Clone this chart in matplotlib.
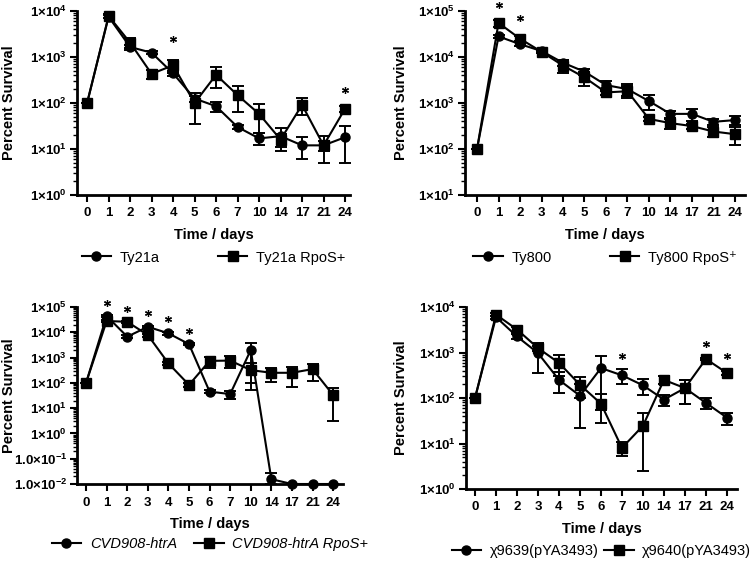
"""
Percent survival over time for four vaccine strain pairs (2x2 log-scale panels)
"""

import matplotlib

matplotlib.use("Agg")

import matplotlib.pyplot as plt
import numpy as np
from matplotlib.lines import Line2D
from matplotlib.ticker import LogLocator, NullFormatter

plt.rcParams["font.family"] = ["Liberation Sans", "DejaVu Sans"]
plt.rcParams["mathtext.fontset"] = "custom"
plt.rcParams["mathtext.bf"] = "Liberation Sans:bold"
plt.rcParams["mathtext.rm"] = "Liberation Sans:bold"
plt.rcParams["mathtext.default"] = "bf"

# shared categorical time axis
days = ["0", "1", "2", "3", "4", "5", "6", "7", "10", "14", "17", "21", "24"]

# panel A: Ty21a
ty21a = [100, 7500, 1650, 1240, 440, 125, 85, 30, 17, 19, 12, 12, 18]
ty21a_sem = [0, 500, 200, 100, 60, 20, 20, 3, 5, 10, 6, 3, 13]
ty21a_rpos = [100, 7800, 2050, 430, 660, 100, 410, 148, 58, 16, 91, 12, 75]
ty21a_rpos_sem = [0, 600, 500, 90, 220, 65, 200, 85, 36, 5, 35, 7, 10]
ty21a_star_x = [4, 12]
ty21a_star_y = [2450, 190]

# panel B: Ty800
ty800 = [100, 28000, 19000, 13500, 7500, 4800, 2450, 2000, 1100, 580, 580, 390, 425]
ty800_sem = [0, 2000, 2000, 1000, 1000, 800, 600, 600, 380, 100, 170, 60, 90]
ty800_rpos = [100, 55000, 25000, 13000, 6500, 3600, 1700, 1800, 450, 365, 315, 240, 210]
ty800_rpos_sem = [0, 9000, 3000, 800, 2000, 1200, 200, 500, 40, 90, 40, 55, 85]
ty800_star_x = [1, 2]
ty800_star_y = [137000, 72000]

# panel C: CVD908-htrA
cvd = [100, 44000, 6700, 16500, 9100, 3400, 45, 36, 2000, 0.0155, 0.01, 0.01, 0.01]
cvd_sem = [0, 3000, 800, 2000, 1000, 300, 5, 12, 1900, 0.011, 0, 0, 0]
cvd_rpos = [100, 28000, 26000, 7800, 590, 83, 740, 760, 320, 250, 250, 350, 33]
cvd_rpos_sem = [0, 3000, 3000, 1000, 60, 15, 360, 360, 270, 140, 180, 230, 30]
cvd_star_x = [1, 2, 3, 4, 5]
cvd_star_y = [150000, 81000, 56000, 33000, 11500]

# panel D: chi9639 / chi9640
chi39 = [100, 6000, 2250, 970, 250, 112, 455, 315, 190, 92, 165, 78, 37]
chi39_sem = [0, 500, 300, 610, 120, 90, 400, 110, 75, 25, 90, 22, 11]
chi40 = [100, 6800, 3200, 1250, 590, 195, 75, 8, 24.5, 250, 165, 720, 355]
chi40_sem = [0, 600, 400, 150, 280, 95, 47, 2.7, 22, 50, 90, 50, 30]
chi_star_x = [7, 11, 12]
chi_star_y = [850, 1550, 850]


def draw_panel(ax, circ, circ_sem, sq, sq_sem, labels, ylim, yticklabels,
               star_x, star_y, xlim, ylabel_x, legend_spacing, legend_style="normal"):
    x = np.arange(len(days))
    handles = []
    for y, sem, mk, ms, lab in [
        (circ, circ_sem, "o", 6.5, labels[0]),
        (sq, sq_sem, "s", 7.5, labels[1]),
    ]:
        y = np.array(y, dtype=float)
        sem = np.array(sem, dtype=float)
        lo = np.minimum(sem, y - ylim[0])
        ax.errorbar(x, y, yerr=[lo, sem], color="black", marker=mk, ms=ms,
                    lw=1.5, elinewidth=1.4, capsize=4, capthick=1.4,
                    clip_on=False, zorder=3)
        handles.append(Line2D([], [], color="black", marker=mk, ms=ms, lw=1.5, label=lab))
    ax.plot(star_x, star_y, ls="none", marker=(6, 2, 0), ms=5, mew=0.9,
            color="black", clip_on=False)

    ax.set_yscale("log")
    ax.set_ylim(*ylim)
    ax.set_xlim(*xlim)
    majors = 10.0 ** np.arange(np.log10(ylim[0]), np.log10(ylim[1]) + 0.5)
    ax.set_yticks(majors)
    ax.set_yticklabels(yticklabels)
    ax.yaxis.set_minor_locator(LogLocator(base=10, subs=np.arange(2, 10), numticks=20))
    ax.yaxis.set_minor_formatter(NullFormatter())
    ax.set_xticks(x)
    ax.set_xticklabels(days)

    for s in ["top", "right"]:
        ax.spines[s].set_visible(False)
    for s in ["left", "bottom"]:
        ax.spines[s].set_linewidth(2)
    ax.tick_params(which="major", length=5, width=1.5, labelsize=9.5, pad=2)
    ax.tick_params(axis="x", pad=4)
    ax.tick_params(which="minor", length=3, width=1)
    for t in ax.get_xticklabels() + ax.get_yticklabels():
        t.set_fontweight("bold")

    ax.set_ylabel("Percent Survival", fontsize=10.5, fontweight="bold")
    ax.yaxis.set_label_coords(ylabel_x, 0.5)
    ax.set_xlabel("Time / days", fontsize=10.5, fontweight="bold", labelpad=6)
    leg = ax.legend(handles=handles, loc="center", bbox_to_anchor=(0.5, -0.34), ncol=2,
                    frameon=False, fontsize=10.5, handlelength=2,
                    handletextpad=0.6, columnspacing=legend_spacing,
                    borderaxespad=0)
    for t in leg.get_texts():
        t.set_fontstyle(legend_style)


fig = plt.figure(figsize=(7.5, 5.68), dpi=100)
W, H = 750.0, 568.0


def add_axes(left, right, top, bottom):
    return fig.add_axes([left / W, 1 - bottom / H, (right - left) / W, (bottom - top) / H])


ax1 = add_axes(77, 350, 11, 195)
ax2 = add_axes(465, 745, 11, 195)
ax3 = add_axes(77, 343, 307, 484)
ax4 = add_axes(466, 737, 307, 489)

dec = ["1×10$^{%d}$" % k for k in range(0, 6)]

draw_panel(ax1, ty21a, ty21a_sem, ty21a_rpos, ty21a_rpos_sem,
           ["Ty21a", "Ty21a RpoS+"], (1, 1e4), dec[0:5],
           ty21a_star_x, ty21a_star_y, (-0.47, 12.23), -0.222, 4.0)
draw_panel(ax2, ty800, ty800_sem, ty800_rpos, ty800_rpos_sem,
           ["Ty800", "Ty800 RpoS⁺"], (10, 1e5), dec[1:6],
           ty800_star_x, ty800_star_y, (-0.56, 12.47), -0.205, 4.0)
draw_panel(ax3, cvd, cvd_sem, cvd_rpos, cvd_rpos_sem,
           ["CVD908-htrA", "CVD908-htrA RpoS+"], (0.01, 1e5),
           ["1.0×10$^{-2}$", "1.0×10$^{-1}$"] + dec[0:6],
           cvd_star_x, cvd_star_y, (-0.44, 12.48), -0.228, 1.2, legend_style="italic")
draw_panel(ax4, chi39, chi39_sem, chi40, chi40_sem,
           ["χ9639(pYA3493)", "χ9640(pYA3493)"], (1, 1e4), dec[0:5],
           chi_star_x, chi_star_y, (-0.43, 12.48), -0.215, 0.4)

fig.savefig("out.png", dpi=100, facecolor="white")
